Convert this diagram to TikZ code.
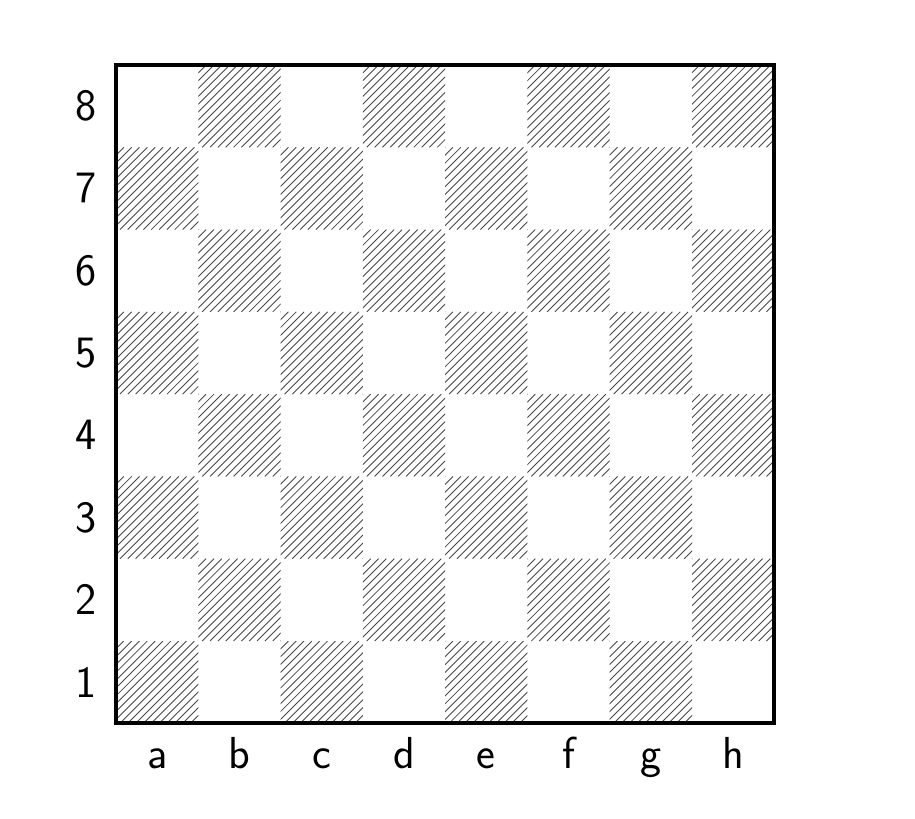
\documentclass[tikz,border=0pt]{standalone}
\begin{document}
\begin{tikzpicture}[
  hatch/.style={line width=0.3pt, draw=black!72},
  frame/.style={line width=1.4pt},
  lbl/.style={font=\fontsize{15.5}{18}\selectfont\sffamily, inner sep=0pt}
]
\useasboundingbox (-1.41,-1.154) rectangle (9.71,8.79);
\foreach \i in {0,...,7}{
  \foreach \j in {0,...,7}{
    \pgfmathtruncatemacro{\sqpar}{mod(\i+\j,2)}
    \ifnum\sqpar=0
      \begin{scope}
        \clip (\i,\j) rectangle ++(1,1);
        \foreach \m in {-11,...,10}{
          \draw[hatch] ({\i+\m*0.095238+0.047619},\j) -- ++(1,1);
        }
      \end{scope}
    \fi
  }
}
\draw[frame] (0,0) rectangle (8,8);
\foreach \n [count=\k from 0] in {1,...,8}{
  \node[lbl] (r\n) at (-0.365,\k+0.5) {\n};
}
\foreach \c [count=\k from 0] in {a,b,c,d,e,f,g,h}{
  \node[lbl, anchor=base] (c\c) at (\k+0.5,-0.55) {\c};
}
\end{tikzpicture}
\end{document}
